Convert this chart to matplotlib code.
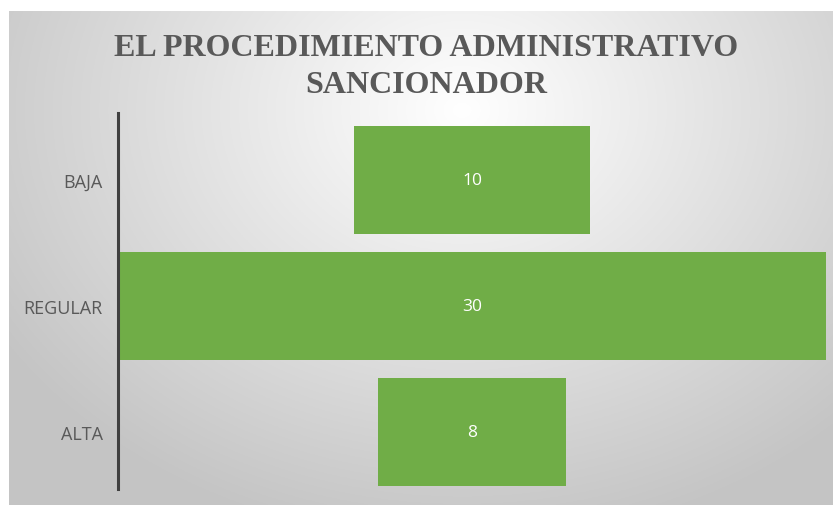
import numpy as np
import matplotlib.pyplot as plt

categorias = ['BAJA', 'REGULAR', 'ALTA']
valores = [10, 30, 8]
titulo = 'EL PROCEDIMIENTO ADMINISTRATIVO\nSANCIONADOR'

W, H = 833, 506
fig = plt.figure(figsize=(W / 100, H / 100), dpi=100)
fig.patch.set_facecolor('white')

# fondo con degradado radial
bg = fig.add_axes([9 / W, 0, 1 - 9 / W, 1 - 12 / H])
yy, xx = np.mgrid[0:1:300j, 0:1:500j]
d = np.sqrt(((xx - 0.55) / 0.75) ** 2 + ((yy - 0.2) / 1.0) ** 2)
g = np.clip(1.0 - 0.26 * d, 0.77, 1.0)
bg.imshow(np.dstack([g, g, g]), aspect='auto', extent=[0, 1, 1, 0])
bg.set_axis_off()

ax = fig.add_axes([118 / W, 1 - 496 / H, (826 - 118) / W, (496 - 118) / H])
ax.patch.set_alpha(0)
y = np.arange(len(categorias))
izq = [-v / 2 for v in valores]
ax.barh(y, valores, left=izq, height=0.85, color='#70AD47')
for yi, v in zip(y, valores):
    ax.text(0, yi, str(v), ha='center', va='center', color='white',
            fontsize=12.5, family='Open Sans')
ax.set_xlim(-15, 15)
ax.set_ylim(2.5, -0.5)
ax.set_yticks(y)
ax.set_yticklabels(categorias, fontsize=13, color='#595959', family='Open Sans')
ax.tick_params(axis='y', length=0, pad=11)
ax.set_xticks([])
for s in ['top', 'right', 'bottom']:
    ax.spines[s].set_visible(False)
ax.spines['left'].set_linewidth(2.2)
ax.spines['left'].set_color('#404040')
ax.spines['left'].set_bounds(-0.53, 2.45)

fig.text(426 / W, 1 - 67 / H, titulo, ha='center', va='center', fontsize=23,
         fontweight='bold', family='Liberation Serif', color='#595959',
         linespacing=1.35)

fig.savefig('out.png', dpi=100)
